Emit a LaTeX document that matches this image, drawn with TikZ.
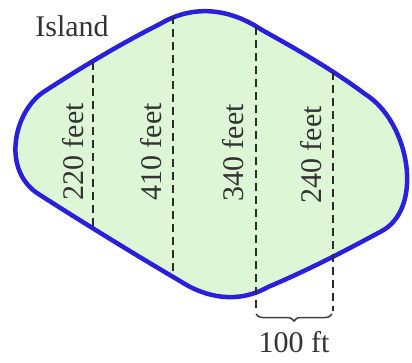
\documentclass[tikz,border=0pt]{standalone}
\usepackage{fontspec}
\setmainfont{Liberation Serif}
\usepackage{tikz}
\usetikzlibrary{decorations.pathreplacing, calc}
\definecolor{shoreblue}{HTML}{2A20DC}
\definecolor{landgreen}{HTML}{DDF6D6}
\definecolor{chordgray}{HTML}{2B2B2B}

\begin{document}
\begin{tikzpicture}[
    x=1pt, y=-1pt,
    shore/.style={draw=shoreblue, line width=4.5pt, fill=landgreen, line join=round},
    chord/.style={draw=chordgray, line width=1.8pt, dash pattern=on 8pt off 5pt},
    lbl/.style={font=\fontsize{30}{32}\selectfont, text=black!80, inner sep=0pt, rotate=90},
    caption/.style={font=\fontsize{30}{32}\selectfont, text=black!80, inner sep=0pt},
    spanbrace/.style={decorate, decoration={brace, mirror, amplitude=7pt}, draw=black!75, line width=1.5pt},
]
    \useasboundingbox (0,0) rectangle (412,362);

    % Island outline
    \draw[shore] (45,91)
        .. controls (82,67) and (122,43) .. (160,24)
        .. controls (190,6) and (226,6) .. (262,30)
        .. controls (298,50) and (333,70) .. (365,94)
        .. controls (410,122) and (425,210) .. (380,232)
        .. controls (343,252) and (306,271) .. (268,287)
        .. controls (238,304) and (206,298) .. (180,281)
        .. controls (134,254) and (87,225) .. (40,195)
        .. controls (0,171) and (14,110) .. (45,91) -- cycle;

    % Chord end points
    \coordinate (c1top) at (93,62);
    \coordinate (c1bot) at (93,226);
    \coordinate (c2top) at (173,16);
    \coordinate (c2bot) at (173,277);
    \coordinate (c3top) at (256,27);
    \coordinate (c3bot) at (256,310);
    \coordinate (c4top) at (333,72);
    \coordinate (c4bot) at (333,311);

    \draw[chord] (c1top) -- (c1bot);
    \draw[chord] (c2top) -- (c2bot);
    \draw[chord] (c3top) -- (c3bot);
    \draw[chord] (c4top) -- (c4bot);

    % Chord lengths
    \node[lbl] (len1) at (73,152) {220 feet};
    \node[lbl] (len2) at (151,152) {410 feet};
    \node[lbl] (len3) at (233,153) {340 feet};
    \node[lbl] (len4) at (311,155) {240 feet};

    \node[caption] (title) at (72,26) {Island};

    % Spacing brace
    \coordinate (bl) at (256,314);
    \coordinate (br) at (332,314);
    \draw[spanbrace] (bl) -- (br);
    \node[caption, below=17pt] (gap) at ($(bl)!0.5!(br)$) {100 ft};
\end{tikzpicture}
\end{document}
